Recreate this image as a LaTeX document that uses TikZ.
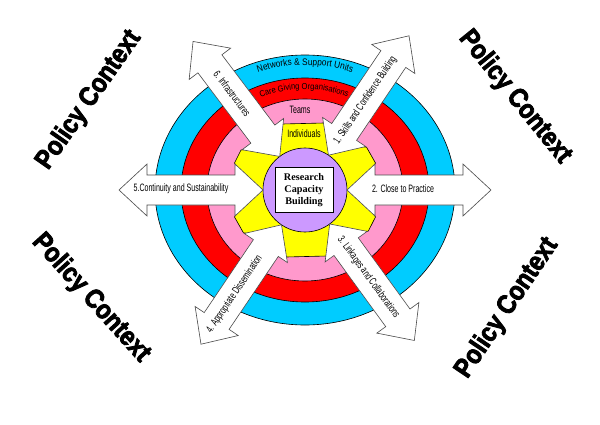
\documentclass[tikz,border=0pt]{standalone}
\usepackage{fontspec}
\setmainfont{Liberation Sans}
\newfontfamily\armfont[FakeStretch=0.66]{Liberation Sans}
\newfontfamily\ringfont[FakeStretch=0.88]{Liberation Sans}
\newfontfamily\policyfont[FakeStretch=0.87,FakeBold=3]{Liberation Sans Bold}
\newfontfamily\boxfont{Liberation Serif}
\usetikzlibrary{decorations.text}

\definecolor{netblue}{RGB}{0,204,255}
\definecolor{carered}{RGB}{255,0,0}
\definecolor{teampink}{RGB}{255,153,204}
\definecolor{indyellow}{RGB}{255,255,0}
\definecolor{rcbpurple}{RGB}{204,153,255}

% dobbel pil fra sirkelen og ut, vinkel som argument
\newcommand{\twoheadarrow}[1]{%
  \draw[twohead, rotate=#1] (42,0) -- (70,26) -- (70,15) -- (158,15) -- (158,26)
    -- (186,0) -- (158,-26) -- (158,-15) -- (70,-15) -- (70,-26) -- cycle;}

\begin{document}
\begin{tikzpicture}[x=0.02cm, y=0.02cm,
  ring/.style={draw=black, line width=0.35pt},
  twohead/.style={fill=white, draw=black!70, line width=0.35pt},
  armlabel/.style={font=\armfont\fontsize{6.1}{7}\selectfont, inner sep=0pt},
  policy/.style={font=\policyfont\fontsize{15.3}{18}\selectfont, inner sep=0pt}]
  \useasboundingbox (-305,-234) rectangle (295,190);

  % ringene utenfra og inn
  \draw[ring, fill=netblue] (0,0) ellipse [x radius=150, y radius=135];
  \draw[ring, fill=carered] (0,0) ellipse [x radius=124, y radius=112];
  \draw[ring, fill=teampink] (0,0) ellipse [x radius=98, y radius=91];

  % individ-stjernen
  \draw[ring, fill=indyellow] (19,67) -- (-23,66) -- (127:55) -- (-64,40)
    -- (-70.5,27) -- (-55,0) -- (-70.5,-27) -- (-61.5,-42.9) -- (236:55)
    -- (-19,-67) -- (22,-66) -- (306:55) -- (63.3,-41.1) -- (70.5,-27)
    -- (55,0) -- (70.5,27) -- (61.5,42.9) -- (56:55) -- cycle;

  \draw[ring, fill=rcbpurple] (0,0) circle (42);

  % pilene
  \foreach \ang in {0,56,127,180,236,306}{
    \twoheadarrow{\ang}
  }

  \node[draw=black, fill=white, line width=0.4pt, minimum width=1.16cm,
    minimum height=0.9cm, inner sep=1pt, align=center,
    font=\boxfont\bfseries\fontsize{5.8}{6.6}\selectfont] (rcb) at (-1,0)
    {Research\\Capacity\\Building};

  % nivaa-tekster
  \path[decorate, decoration={text along path, text align=center,
    text={|\ringfont\fontsize{5.4}{6}\selectfont|Networks {\&} Support Units}}]
    (140:138 and 125) arc [start angle=140, end angle=40, x radius=138, y radius=125];
  \path[decorate, decoration={text along path, text align=center,
    text={|\ringfont\fontsize{4.9}{6}\selectfont|Care Giving Organisations}}]
    (141:108 and 101) arc [start angle=141, end angle=40, x radius=108, y radius=101];
  \node[armlabel] (teams) at (-5,80) {Teams};
  \node[armlabel] (indiv) at (-1,56) {Individuals};

  % pil-tekster
  \node[armlabel, rotate=56] (skills) at (56:108) {1. Skills and Confidence Building};
  \node[armlabel] (close) at (98,1) {2. Close to Practice};
  \node[armlabel, rotate=-54] (links) at (306:108) {3. Linkages and Collaborations};
  \node[armlabel, rotate=56] (dissem) at (236:126) {4. Appropriate Dissemination};
  \node[armlabel] (contin) at (-124,1) {5.Continuity and Sustainability};
  \node[armlabel, rotate=-53] (infra) at (127:121) {6. Infrastructures};

  % policy context i hjoernene
  \node[policy, rotate=55] (pctl) at (-216,90) {Policy Context};
  \node[policy, rotate=-51] (pctr) at (210,93) {Policy Context};
  \node[policy, rotate=-48] (pcbl) at (-214,-108) {Policy Context};
  \node[policy, rotate=56] (pcbr) at (202,-118) {Policy Context};
\end{tikzpicture}
\end{document}
